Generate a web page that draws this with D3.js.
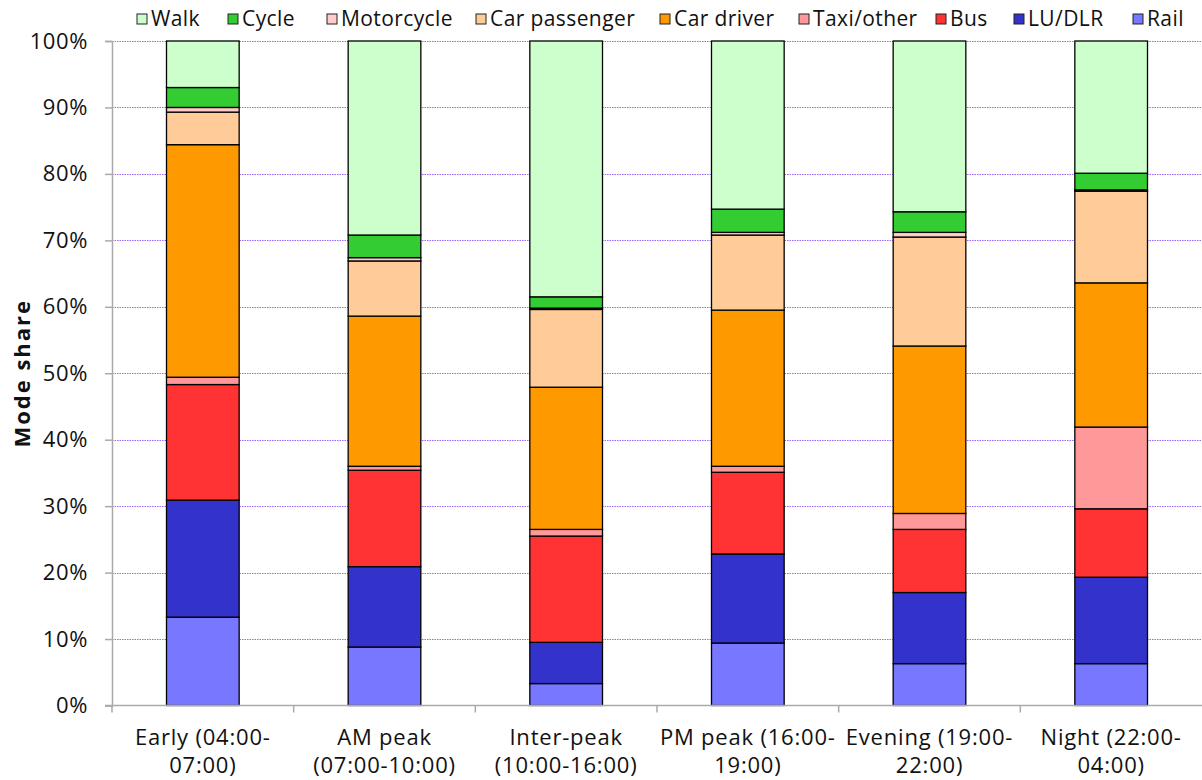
<!DOCTYPE html>
<html>
<head>
<meta charset="utf-8">
<script src="https://cdn.jsdelivr.net/npm/d3@7"></script>
<style>
  body { margin: 0; background: #fff; }
  svg { font-family: "Open Sans", Lato, sans-serif; }
</style>
</head>
<body>
<div id="chart"></div>
<script>
const categories = ["Early (04:00-07:00)", "AM peak (07:00-10:00)", "Inter-peak (10:00-16:00)",
  "PM peak (16:00-19:00)", "Evening (19:00-22:00)", "Night (22:00-04:00)"];
const tickLabels = [["Early (04:00-", "07:00)"], ["AM peak", "(07:00-10:00)"], ["Inter-peak", "(10:00-16:00)"],
  ["PM peak (16:00-", "19:00)"], ["Evening (19:00-", "22:00)"], ["Night (22:00-", "04:00)"]];

// stacking order, bottom to top
const modes = ["Rail", "LU/DLR", "Bus", "Taxi/other", "Car driver", "Car passenger", "Motorcycle", "Cycle", "Walk"];
const colors = ["#7777ff", "#3333cc", "#ff3333", "#ff9999", "#ff9900", "#ffcc99", "#ffcccc", "#33cc33", "#ccffcc"];

const rail         = [13.3, 8.8, 3.3, 9.4, 6.3, 6.3];
const luDlr        = [17.6, 12.1, 6.2, 13.4, 10.7, 13.0];
const bus          = [17.4, 14.5, 16.0, 12.3, 9.5, 10.3];
const taxiOther    = [1.1, 0.6, 1.0, 0.9, 2.4, 12.3];
const carDriver    = [35.0, 22.6, 21.4, 23.5, 25.2, 21.7];
const carPassenger = [4.9, 8.3, 11.7, 11.3, 16.4, 13.8];
const motorcycle   = [0.7, 0.5, 0.2, 0.4, 0.7, 0.2];
const cycle        = [3.0, 3.4, 1.7, 3.5, 3.1, 2.5];
const walk         = [7.0, 29.2, 38.5, 25.3, 25.7, 19.9];

const yTicks = [0, 10, 20, 30, 40, 50, 60, 70, 80, 90, 100];

const series = [rail, luDlr, bus, taxiOther, carDriver, carPassenger, motorcycle, cycle, walk];
const table = categories.map((c, i) => {
  const row = { category: c };
  modes.forEach((m, j) => row[m] = series[j][i]);
  return row;
});

const W = 1202, H = 780;
const margin = { top: 41, right: 0, bottom: 75, left: 112 };

const svg = d3.select("#chart").append("svg").attr("width", W).attr("height", H);

const x = d3.scaleBand().domain(categories).range([margin.left, W - margin.right]).paddingInner(0.6).paddingOuter(0.3);
const y = d3.scaleLinear().domain([0, 100]).range([H - margin.bottom + 0.5, margin.top]);
const color = d3.scaleOrdinal().domain(modes).range(colors);

// gridlines
svg.append("g").selectAll("line")
  .data(yTicks.filter(d => d > 0))
  .join("line")
  .attr("x1", margin.left).attr("x2", W)
  .attr("y1", d => Math.round(y(d)) + 0.5).attr("y2", d => Math.round(y(d)) + 0.5)
  .attr("stroke", "#9a66ff").attr("stroke-width", 1).attr("stroke-dasharray", "1.5,1");

// bars
const stacked = d3.stack().keys(modes)(table);
svg.append("g").selectAll("g")
  .data(stacked)
  .join("g")
  .attr("fill", d => color(d.key))
  .selectAll("rect")
  .data(d => d)
  .join("rect")
  .attr("x", d => x(d.data.category))
  .attr("y", d => y(d[1]))
  .attr("width", x.bandwidth())
  .attr("height", d => y(d[0]) - y(d[1]))
  .attr("stroke", "#000").attr("stroke-width", 1.3);

// y axis
const yAxis = svg.append("g").attr("transform", `translate(${margin.left},0)`)
  .call(d3.axisLeft(y).tickValues(yTicks).tickFormat(d => d + "%").tickSize(7).tickPadding(17));
yAxis.select(".domain").attr("stroke", "#aaa").attr("stroke-width", 1.5);
yAxis.selectAll(".tick line").attr("stroke", "#aaa").attr("stroke-width", 1.5);
yAxis.selectAll("text").attr("font-size", 22).attr("fill", "#111")
  .attr("font-family", "'Open Sans', sans-serif").attr("letter-spacing", 0.6);

// x axis
const xBase = y(0);
const xg = svg.append("g");
xg.append("line").attr("x1", margin.left - 7).attr("x2", W).attr("y1", xBase).attr("y2", xBase)
  .attr("stroke", "#aaa").attr("stroke-width", 1.5);
const step = x.step();
xg.selectAll(".xt")
  .data(d3.range(categories.length))
  .join("line")
  .attr("x1", i => margin.left + i * step).attr("x2", i => margin.left + i * step)
  .attr("y1", xBase).attr("y2", xBase + 7)
  .attr("stroke", "#aaa").attr("stroke-width", 1.5);
xg.selectAll("text.xl")
  .data(categories)
  .join("text")
  .attr("class", "xl")
  .attr("text-anchor", "middle")
  .attr("font-size", 22).attr("fill", "#111").attr("letter-spacing", 0.8)
  .attr("x", d => x(d) + x.bandwidth() / 2)
  .attr("y", xBase + 39)
  .each(function (d, i) {
    const t = d3.select(this);
    tickLabels[i].forEach((line, k) => {
      t.append("tspan").attr("x", x(d) + x.bandwidth() / 2).attr("dy", k === 0 ? 0 : 28).text(line);
    });
  });

// y title
svg.append("text")
  .attr("transform", `translate(30,${(y(0) + y(100)) / 2}) rotate(-90)`)
  .attr("text-anchor", "middle")
  .attr("font-size", 22).attr("font-weight", "bold").attr("fill", "#111").attr("letter-spacing", 2)
  .text("Mode share");

// legend (reverse order: Walk first)
const legendItems = modes.slice().reverse();
const legendX = [137, 228, 327, 476, 660, 799, 936, 1014, 1133];
const lg = svg.append("g").selectAll("g")
  .data(legendItems)
  .join("g")
  .attr("transform", (d, i) => `translate(${legendX[i]},14)`);
lg.append("rect").attr("width", 10).attr("height", 10)
  .attr("fill", d => color(d)).attr("stroke", "#222").attr("stroke-width", 1);
lg.append("text").attr("x", 14).attr("y", 12).attr("font-size", 21).attr("letter-spacing", 0.4)
  .attr("fill", "#111").text(d => d);
</script>
</body>
</html>
